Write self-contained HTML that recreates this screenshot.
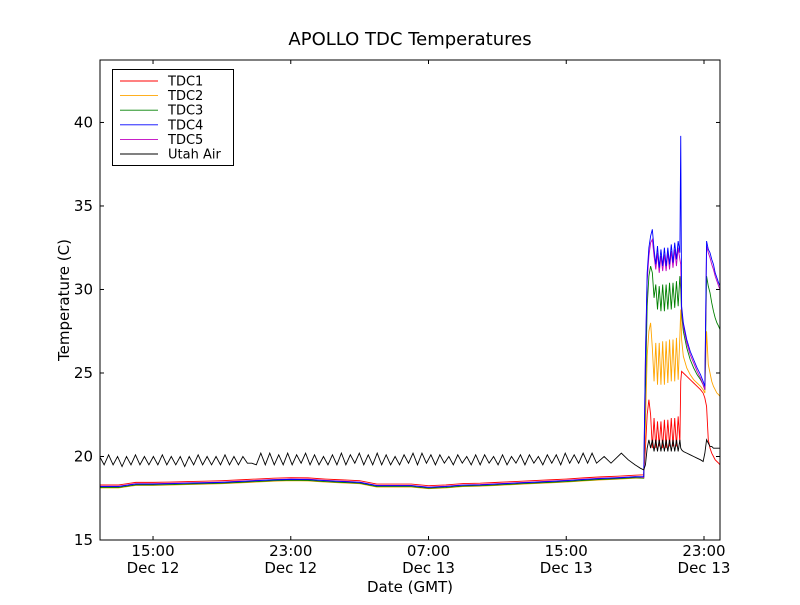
<!DOCTYPE html>
<html><head><meta charset="utf-8"><style>
body{margin:0;background:#fff;}
svg text{font-family:"DejaVu Sans","Liberation Sans",sans-serif;fill:#000;}
</style></head><body>
<svg id="chart" width="800" height="600">
<rect x="0" y="0" width="800" height="600" fill="#fff"/>
<text x="410" y="45" font-size="18" text-anchor="middle">APOLLO TDC Temperatures</text>
<text x="410" y="592" font-size="15" text-anchor="middle">Date (GMT)</text>
<text transform="translate(69,300) rotate(-90)" font-size="15" text-anchor="middle">Temperature (C)</text>
<g id="ticks"></g>
<g id="series"></g>
<rect x="100" y="60" width="620" height="480" fill="none" stroke="#000" stroke-width="1"/>
<g id="legend"></g>
</svg>
<script>
// ---- data ----
const yTicks = [15,20,25,30,35,40];
const xTickHours = [0,8,16,24,32];
const xTickTimes = ["15:00","23:00","07:00","15:00","23:00"];
const xTickDays = ["Dec 12","Dec 12","Dec 13","Dec 13","Dec 13"];
const seriesNames = ["TDC1","TDC2","TDC3","TDC4","TDC5","Utah Air"];
const seriesColors = ["#ff0000","#ffa500","#008000","#0000ff","#bf00bf","#000000"];

const baseTimes = [-3.1,-2,-1,0,1,2,3,4,5,6,7,8,9,10,11,12,13,14,15,16,17,18,19,20,21,22,23,24,25,26,27,28];
const tdc1Base = [18.3,18.3,18.45,18.45,18.47,18.5,18.52,18.55,18.6,18.65,18.7,18.73,18.72,18.65,18.6,18.55,18.35,18.35,18.35,18.25,18.3,18.38,18.4,18.45,18.5,18.55,18.6,18.65,18.72,18.78,18.82,18.88];
const tdc2Base = [18.12,18.12,18.27,18.27,18.29,18.32,18.34,18.37,18.42,18.47,18.52,18.55,18.54,18.47,18.42,18.37,18.17,18.17,18.17,18.07,18.12,18.2,18.22,18.27,18.32,18.37,18.42,18.47,18.54,18.6,18.64,18.7];
const tdc3Base = [18.15,18.15,18.3,18.3,18.32,18.35,18.37,18.4,18.45,18.5,18.55,18.58,18.57,18.5,18.45,18.4,18.2,18.2,18.2,18.1,18.15,18.23,18.25,18.3,18.35,18.4,18.45,18.5,18.57,18.63,18.67,18.73];
const tdc4Base = [18.2,18.2,18.35,18.35,18.37,18.4,18.42,18.45,18.5,18.55,18.6,18.63,18.62,18.55,18.5,18.45,18.25,18.25,18.25,18.15,18.2,18.28,18.3,18.35,18.4,18.45,18.5,18.55,18.62,18.68,18.72,18.78];
const tdc5Base = [18.22,18.22,18.37,18.37,18.39,18.42,18.44,18.47,18.52,18.57,18.62,18.65,18.64,18.57,18.52,18.47,18.27,18.27,18.27,18.17,18.22,18.3,18.32,18.37,18.42,18.47,18.52,18.57,18.64,18.7,18.74,18.8];

const hotTimes = [28.5,28.6,28.7,28.8,28.9,29.0,29.1,29.2,29.3,29.4,29.5,29.6,29.7,29.8,29.9,30.0,30.1,30.2,30.3,30.4,30.5,30.6,30.65,30.7,30.8,31.0,31.2,31.4,31.6,31.8,31.95,32.05,32.15,32.25,32.35,32.45,32.55,32.65,32.75,32.85,32.93,33.0];
const tdc1Hot = [18.9,20.5,22.5,23.4,22.5,20.5,22.3,20.5,22.1,20.6,22.1,20.5,22.2,20.5,22.2,20.6,22.3,20.6,22.3,20.6,22.4,20.8,24.5,25.1,25,24.8,24.6,24.4,24.2,24,23.8,23.5,23.0,21,20.5,20.2,20,19.8,19.7,19.6,19.5,19.4];
const tdc2Hot = [18.7,22,26,27.5,28,26.5,24.5,26.8,24.3,26.8,24.3,26.9,24.3,26.9,24.4,27,24.5,27,24.5,27.1,24.6,27.2,28.8,27,26,25.3,24.9,24.6,24.4,24.2,24.0,23.8,27.5,25.5,25,24.5,24.2,24,23.8,23.7,23.6,23.5];
const tdc3Hot = [18.7,24,29,30.8,31.4,31,29.5,30.3,28.8,30.2,28.7,30.3,28.7,30.3,28.8,30.4,28.8,30.4,28.9,30.5,29,30.8,30,28.5,27.5,26.5,25.8,25.3,24.9,24.6,24.3,24.0,30.8,30.2,29.8,29.2,28.7,28.3,28,27.8,27.6,27.5];
const tdc4Hot = [18.8,26,31,32.5,33.2,33.6,32.4,31.5,32.6,31.3,32.4,31.4,32.5,31.4,32.5,31.5,32.7,31.6,32.8,31.8,32.9,32.2,39.2,29,28,27,26.3,25.8,25.3,24.9,24.5,24.2,32.9,32.4,32.2,31.8,31.5,31,30.7,30.4,30.2,30.0];
const tdc5Hot = [18.75,26,30.5,32,32.8,33.0,32,31.2,32.2,31,32,31.1,32.1,31.1,32.2,31.2,32.3,31.3,32.4,31.4,32.5,31.8,31.5,28.8,27.8,26.8,26.1,25.6,25.1,24.7,24.3,24.0,32.6,32.2,31.9,31.5,31.2,30.8,30.5,30.2,30.0,29.8];
const airHot = [19.2,19.5,20.5,21,20.5,21,20.3,21,20.3,21,20.3,21,20.3,21,20.3,21,20.3,21,20.3,21,20.3,21,20.5,20.4,20.3,20.2,20.1,20,19.9,19.8,19.7,20.2,21,20.8,20.6,20.6,20.5,20.5,20.5,20.5,20.5,20.5];

const airBaseStart = -3.1, airBaseStep = 0.26;
const airBase = [20.0,19.5,20.1,19.5,20.0,19.4,20.0,19.5,20.1,19.5,20.0,19.5,20.0,19.5,20.1,19.5,20.0,19.5,20.0,19.4,20.0,19.5,20.1,19.5,20.0,19.5,20.0,19.5,20.1,19.5,20.0,19.5,20.0,19.6,19.6,19.5,20.2,19.5,20.2,19.5,20.1,19.5,20.2,19.5,20.1,19.6,20.2,19.5,20.1,19.5,20.0,19.5,20.1,19.5,20.2,19.5,20.1,19.6,20.2,19.5,20.1,19.5,20.2,19.5,20.1,19.5,20.0,19.5,20.1,19.6,20.2,19.5,20.2,19.6,20.1,19.5,20.1,19.6,20.0,19.5,20.1,19.6,20.0,19.5,20.1,19.5,20.1,19.6,20.0,19.5,20.1,19.5,20.0,19.6,20.1,19.5,20.1,19.6,20.0,19.5,20.1,19.6,20.1,19.5,20.2,19.6,20.1,19.6,20.2,19.6,20.2,19.6];
const airTailTimes = [26.2,26.6,27.2,27.6,28.0,28.3];
const airTail = [20.0,19.6,20.2,19.8,19.5,19.3];

// ---- axes ----
const X0 = 100, X1 = 720, Y0 = 540, Y1 = 60;
const tMin = -3.08, tMax = 32.93, vMin = 15, vMax = 43.74;
const xs = t => X0 + (t - tMin) / (tMax - tMin) * (X1 - X0);
const ys = v => Y0 - (v - vMin) / (vMax - vMin) * (Y0 - Y1);

const NS = "http://www.w3.org/2000/svg";
const tickG = document.getElementById("ticks");
function mk(tag, attrs, parent){ const e=document.createElementNS(NS,tag); for(const k in attrs) e.setAttribute(k,attrs[k]); parent.appendChild(e); return e; }

yTicks.forEach(v=>{
  const y = ys(v);
  const a = mk("line",{x1:X0,x2:X0+4,y1:y,y2:y,stroke:"#000"},tickG);
  
  
  const b = mk("line",{x1:X1-4,x2:X1,y1:y,y2:y,stroke:"#000"},tickG);
  
  
  const t = mk("text",{x:X0-7,y:y+5,"font-size":15,"text-anchor":"end"},tickG);
  t.textContent = v;
  
  
});
xTickHours.forEach((h,i)=>{
  const x = xs(h);
  const a = mk("line",{x1:x,x2:x,y1:Y0,y2:Y0-4,stroke:"#000"},tickG);
  
  
  const b = mk("line",{x1:x,x2:x,y1:Y1,y2:Y1+4,stroke:"#000"},tickG);
  
  
  const t1 = mk("text",{x:x,y:Y0+16,"font-size":15,"text-anchor":"middle"},tickG);
  t1.textContent = xTickTimes[i];
  
  
  const t2 = mk("text",{x:x,y:Y0+33,"font-size":15,"text-anchor":"middle"},tickG);
  t2.textContent = xTickDays[i];
  
  
});

// ---- series ----
const tdcTimes = baseTimes.concat(hotTimes);
const airTimes = airBase.map((_,i)=>airBaseStart + i*airBaseStep).concat(airTailTimes, hotTimes);
const seriesData = [
  [tdcTimes, tdc1Base.concat(tdc1Hot)],
  [tdcTimes, tdc2Base.concat(tdc2Hot)],
  [tdcTimes, tdc3Base.concat(tdc3Hot)],
  [tdcTimes, tdc5Base.concat(tdc5Hot)],
  [tdcTimes, tdc4Base.concat(tdc4Hot)],
  [airTimes, airBase.concat(airTail, airHot)]
];
const order = [0,1,2,4,3,5];
const sG = document.getElementById("series");
const clip = mk("clipPath",{id:"plotclip"},sG);
mk("rect",{x:X0,y:Y1,width:X1-X0,height:Y0-Y1},clip);
const slugs = ["tdc1","tdc2","tdc3","tdc4","tdc5","utah-air"];
seriesData.forEach((s,k)=>{
  const ci = order[k];
  const [ts, vs] = s;
  const d = ts.map((t,i)=>(i?"L":"M")+xs(t).toFixed(2)+","+ys(vs[i]).toFixed(2)).join("");
  const p = mk("path",{d:d,fill:"none",stroke:seriesColors[ci],"stroke-width":0.9,"clip-path":"url(#plotclip)"},sG);
  
  
});

// ---- legend ----
const lg = document.getElementById("legend");
mk("rect",{x:112.5,y:69.5,width:121,height:96,fill:"#fff",stroke:"#000"},lg);
seriesNames.forEach((n,i)=>{
  const y = 81 + i*14.6;
  const l = mk("line",{x1:120,x2:158,y1:y,y2:y,stroke:seriesColors[i],"stroke-width":0.9},lg);
  
  
  const t = mk("text",{x:168,y:y+4.5,"font-size":13},lg);
  t.textContent = n;
  
  
});
</script>
</body></html>
